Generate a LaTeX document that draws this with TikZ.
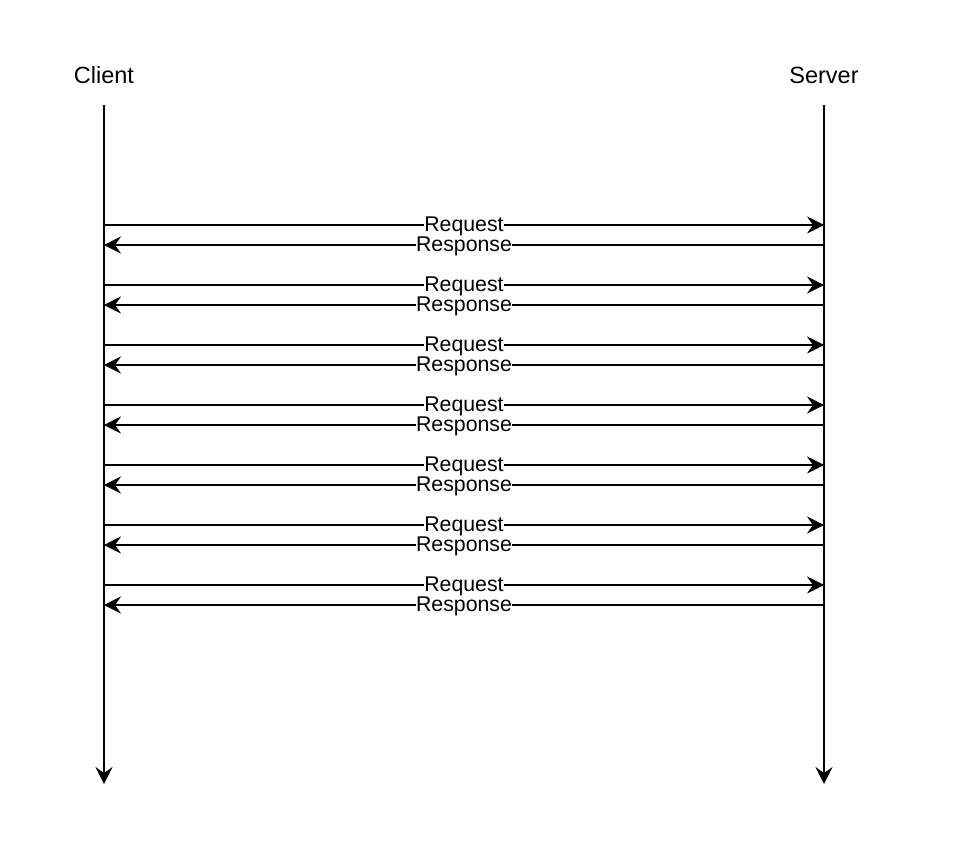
\documentclass[tikz,border=0pt]{standalone}
\usepackage{fontspec}
\setmainfont{Liberation Sans}
\usetikzlibrary{arrows.meta, positioning}

\tikzset{
    lifeline/.style={line width=1.6pt, -{Stealth[length=17pt, width=17pt, inset=6pt]}},
    msg/.style={line width=1.6pt, -{Stealth[length=17pt, width=17pt, inset=6pt]}},
    msglabel/.style={fill=white, inner sep=0.5pt, yshift=-1pt, font=\fontsize{21.3}{22}\selectfont},
    actor/.style={font=\fontsize{23.5}{25}\selectfont}
}

\begin{document}
\begin{tikzpicture}[x=1pt, y=-1pt]
    \useasboundingbox (0,0) rectangle (964,848);
    \node[actor] (client) at (104,75) {Client};
    \node[actor] (server) at (824,75) {Server};
    \coordinate (ctop) at (104,105);
    \coordinate (cbot) at (104,784);
    \coordinate (stop) at (824,105);
    \coordinate (sbot) at (824,784);
    \draw[lifeline] (ctop) -- (cbot);
    \draw[lifeline] (stop) -- (sbot);
    % request / response pairs
    \foreach \i in {0,...,6} {
        \coordinate (creq\i) at (104,225+60*\i);
        \coordinate (sreq\i) at (824,225+60*\i);
        \coordinate (cres\i) at (104,245+60*\i);
        \coordinate (sres\i) at (824,245+60*\i);
        \draw[msg] (creq\i) -- node[msglabel] {Request} (sreq\i);
        \draw[msg] (sres\i) -- node[msglabel] {Response} (cres\i);
    }
\end{tikzpicture}
\end{document}
